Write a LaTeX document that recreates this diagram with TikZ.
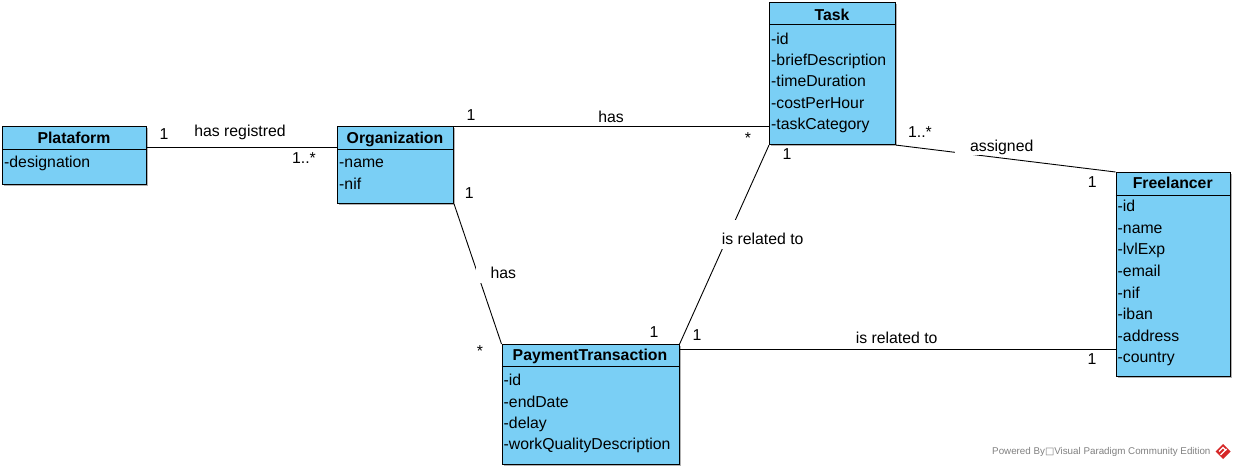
\documentclass[tikz,border=0pt]{standalone}
\usepackage{fontspec}
\setmainfont{Liberation Sans}
\newfontfamily\djv{DejaVu Sans}
\usetikzlibrary{shadows}
\definecolor{vpblue}{RGB}{122,207,245}
\definecolor{vpred}{RGB}{214,40,40}
\begin{document}
\begin{tikzpicture}[x=1pt,y=-1pt,
  txt/.style={font=\fontsize{15.8}{18}\selectfont},
  cls/.style={draw=black, line width=1.1pt, fill=vpblue, inner sep=0pt, anchor=north west,
    drop shadow={shadow xshift=1.6pt, shadow yshift=-1.6pt, fill=black!30, opacity=1}},
  cname/.style={txt, font=\fontsize{15.8}{18}\selectfont\bfseries, anchor=base, inner sep=0pt},
  attr/.style={txt, anchor=base west, inner sep=0pt},
  div/.style={draw=black, line width=1pt},
  assoc/.style={draw=black, line width=0.9pt},
  lab/.style={txt, fill=white, inner xsep=15pt, inner ysep=1pt, anchor=base, text height=11.5pt, text depth=3pt},
  mult/.style={txt, anchor=base, inner sep=0pt}
]
\useasboundingbox (0,0) rectangle (1236,469);

% ---- classes ----
\node[cls, minimum width=144pt, minimum height=58pt] (plat) at (2,126) {};
\node[cls, minimum width=116pt, minimum height=77pt] (org) at (337,126) {};
\node[cls, minimum width=126pt, minimum height=142pt] (task) at (769,2) {};
\node[cls, minimum width=114.5pt, minimum height=204pt] (free) at (1115.5,172) {};
\node[cls, minimum width=177pt, minimum height=120pt] (pay) at (501.5,344) {};

% dividers
\draw[div] (plat.west |- 0,149) -- (plat.east |- 0,149);
\draw[div] (org.west |- 0,149) -- (org.east |- 0,149);
\draw[div] (task.west |- 0,24.5) -- (task.east |- 0,24.5);
\draw[div] (free.west |- 0,195) -- (free.east |- 0,195);
\draw[div] (pay.west |- 0,366) -- (pay.east |- 0,366);

% names
\node[cname] (platn) at (74,143.3) {Plataform};
\node[cname] (orgn) at (395,143.3) {Organization};
\node[cname] (taskn) at (832,20) {Task};
\node[cname] (freen) at (1172.7,188) {Freelancer};
\node[cname] (payn) at (590,360.5) {PaymentTransaction};

% attributes
\node[attr] (pa1) at (4,167) {-designation};
\node[attr] (oa1) at (339,167) {-name};
\node[attr] (oa2) at (339,189) {-nif};

\node[attr] (ta1) at (771,44.3) {-id};
\node[attr] (ta2) at (771,65.6) {-briefDescription};
\node[attr] (ta3) at (771,86.9) {-timeDuration};
\node[attr] (ta4) at (771,108.2) {-costPerHour};
\node[attr] (ta5) at (771,129.5) {-taskCategory};

\node[attr] (fa1) at (1117.5,211.7) {-id};
\node[attr] (fa2) at (1117.5,233.3) {-name};
\node[attr] (fa3) at (1117.5,254.9) {-lvlExp};
\node[attr] (fa4) at (1117.5,276.5) {-email};
\node[attr] (fa5) at (1117.5,298.1) {-nif};
\node[attr] (fa6) at (1117.5,319.7) {-iban};
\node[attr] (fa7) at (1117.5,341.3) {-address};
\node[attr] (fa8) at (1117.5,362.9) {-country};

\node[attr] (ya1) at (503.5,385.7) {-id};
\node[attr] (ya2) at (503.5,407) {-endDate};
\node[attr] (ya3) at (503.5,428.4) {-delay};
\node[attr] (ya4) at (503.5,449.8) {-workQualityDescription};

% ---- associations ----
\draw[assoc] ([yshift=-21pt]plat.north east) -- ([yshift=-21pt]plat.north east -| org.west);
\draw[assoc] (org.north east) -- (org.north east -| task.west);
\draw[assoc] (org.south east) -- (pay.north west);
\draw[assoc] (task.south west) -- (pay.north east);
\draw[assoc] (task.south east) -- (free.north west);
\draw[assoc] ([yshift=-5pt]pay.north east) -- ([yshift=-5pt]pay.north east -| free.west);

% ---- association labels ----
\node[lab] (l1) at (240,136.5) {has registred};
\node[lab] (l2) at (611,122) {has};
\node[lab] (l3) at (503.3,278.8) {has};
\node[lab, text height=24pt] (l4) at (762.7,244.8) {is related to};
\node[lab] (l5) at (1001.7,151) {assigned};
\node[lab] (l6) at (896.7,343.8) {is related to};

% ---- multiplicities ----
\node[mult] (m1) at (164,139.5) {1};
\node[mult] (m2) at (304,163.5) {1..*};
\node[mult] (m3) at (471,120.5) {1};
\node[mult] (m4) at (748,143.3) {*};
\node[mult] (m5) at (469.3,198.8) {1};
\node[mult] (m6) at (480,356.7) {*};
\node[mult] (m7) at (787,159.5) {1};
\node[mult] (m8) at (654,337.2) {1};
\node[mult] (m9) at (920,137) {1..*};
\node[mult] (m10) at (1092.3,187.2) {1};
\node[mult] (m11) at (697,340.5) {1};
\node[mult] (m12) at (1092,364.5) {1};

% ---- watermark ----
\node[anchor=base west, inner sep=0pt, text=black!50, font=\fontsize{9.8}{11}\selectfont] (wm) at (992,454.5) {Powered By{\djv □}Visual Paradigm Community Edition};
\fill[vpred] (1223,444) -- (1230.5,451.5) -- (1223,459) -- (1215.5,451.5) -- cycle;
\draw[white, line width=1.2pt] (1219,451.5) -- (1223,447.5) -- (1226,450.5);
\draw[white, line width=1.2pt] (1220.5,455) -- (1226.5,449);
\end{tikzpicture}
\end{document}
